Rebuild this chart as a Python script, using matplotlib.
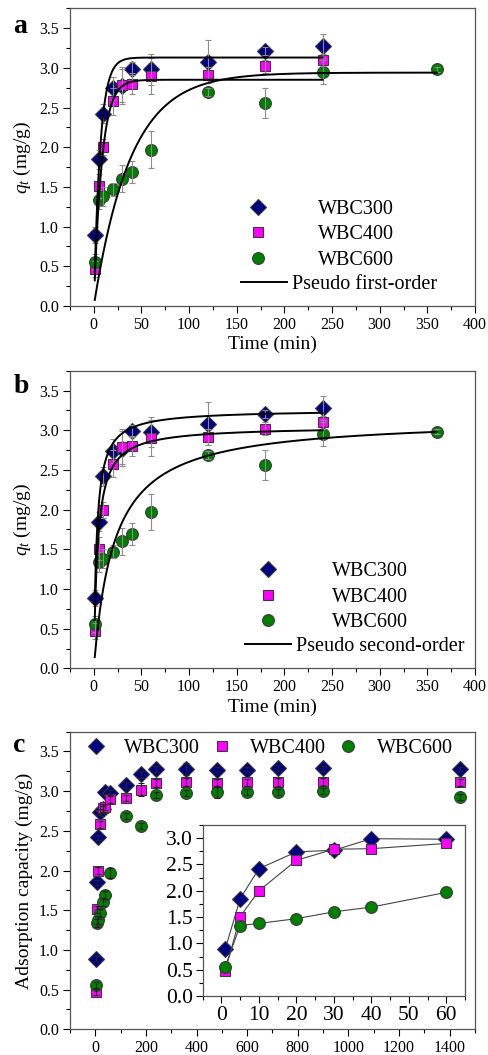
import numpy as np
import matplotlib.pyplot as plt
from matplotlib.ticker import MultipleLocator, FormatStrFormatter

plt.rcParams['font.family'] = ['Liberation Serif', 'DejaVu Serif']
plt.rcParams['mathtext.fontset'] = 'custom'
plt.rcParams['mathtext.it'] = 'Liberation Serif:italic'
plt.rcParams['mathtext.rm'] = 'Liberation Serif'

# kinetics data (panels a, b)
t_ab = [1, 5, 10, 20, 30, 40, 60, 120, 180, 240]
t_ab600 = [1, 5, 10, 20, 30, 40, 60, 120, 180, 240, 360]
q300_ab = [0.89, 1.85, 2.42, 2.74, 2.77, 2.99, 2.98, 3.08, 3.21, 3.28]
q400_ab = [0.47, 1.51, 2.00, 2.58, 2.79, 2.80, 2.90, 2.91, 3.02, 3.10]
q600_ab = [0.56, 1.34, 1.38, 1.47, 1.60, 1.69, 1.97, 2.69, 2.56, 2.95, 2.98]
e300_ab = [0.10, 0.12, 0.12, 0.15, 0.22, 0.08, 0.19, 0.27, 0.05, 0.15]
e400_ab = [0.10, 0.15, 0.10, 0.17, 0.22, 0.13, 0.23, 0.10, 0.08, 0.08]
e600_ab = [0.10, 0.12, 0.12, 0.08, 0.17, 0.14, 0.23, 0.05, 0.19, 0.15, 0.03]

# fitted model parameters (WBC300, WBC400, WBC600)
fit_end = [240, 240, 360]
pfo_qe = [3.13, 2.85, 2.94]
pfo_k = [0.15, 0.12, 0.026]
pso_qe = [3.26, 3.05, 3.156]
pso_k = [0.102, 0.082, 0.0149]

# full time range (panel c)
t_c = [1, 5, 10, 20, 30, 40, 60, 120, 180, 240, 360, 480, 600, 720, 900, 1440]
q300_c = [0.89, 1.85, 2.42, 2.74, 2.77, 2.99, 2.98, 3.08, 3.21, 3.28, 3.28, 3.27, 3.27, 3.29, 3.29, 3.28]
q400_c = [0.47, 1.51, 2.00, 2.58, 2.79, 2.80, 2.90, 2.91, 3.02, 3.10, 3.11, 3.10, 3.11, 3.11, 3.11, 3.11]
q600_c = [0.56, 1.34, 1.38, 1.47, 1.60, 1.69, 1.97, 2.69, 2.56, 2.95, 2.98, 2.99, 2.99, 2.99, 3.00, 2.93]
e300_c = [0.03, 0.03, 0.03, 0.04, 0.04, 0.03, 0.04, 0.04, 0.05, 0.04, 0.08, 0.03, 0.03, 0.04, 0.03, 0.03]
e400_c = [0.04, 0.04, 0.04, 0.04, 0.05, 0.04, 0.05, 0.04, 0.08, 0.05, 0.05, 0.05, 0.04, 0.06, 0.05, 0.04]
e600_c = [0.04, 0.05, 0.05, 0.05, 0.05, 0.05, 0.06, 0.04, 0.04, 0.04, 0.04, 0.07, 0.04, 0.04, 0.04, 0.04]
inset_n = 7  # points with t <= 60

names = ['WBC300', 'WBC400', 'WBC600']
colors = ['#000080', '#ff00ff', '#008000']
markers = ['D', 's', 'o']
msizes = [8, 7, 8.5]
edge = '#3a3a3a'


def style_axes(ax, xmajor, labelsize=11.5):
    ax.xaxis.set_major_locator(MultipleLocator(xmajor))
    ax.xaxis.set_minor_locator(MultipleLocator(xmajor / 2))
    ax.yaxis.set_major_locator(MultipleLocator(0.5))
    ax.yaxis.set_minor_locator(MultipleLocator(0.25))
    ax.yaxis.set_major_formatter(FormatStrFormatter('%.1f'))
    ax.tick_params(which='major', direction='out', length=5, width=0.8,
                   labelsize=labelsize, pad=3)
    ax.tick_params(which='minor', direction='out', length=3, width=0.8)
    for s in ax.spines.values():
        s.set_color('#555555')
        s.set_linewidth(0.9)


def plot_points(ax, t_list, q_list, e_list, ecolor):
    handles = []
    for t, q, e, c, m, ms, n in zip(t_list, q_list, e_list, colors, markers, msizes, names):
        h, = ax.plot(t, q, linestyle='none', marker=m, ms=ms, mfc=c, mec=edge,
                     mew=0.8, label=n, zorder=3)
        ax.errorbar(t, q, yerr=e, fmt='none', ecolor=ecolor, elinewidth=0.8,
                    capsize=2.5, capthick=0.8, zorder=4)
        handles.append(h)
    return handles


def add_legends(ax, handles, line, line_label, pos1, pos2, pad1):
    leg1 = ax.legend(handles=handles, loc='upper left', bbox_to_anchor=pos1,
                     frameon=False, fontsize=14.5, handlelength=1.0,
                     handletextpad=pad1, labelspacing=0.32, borderpad=0,
                     borderaxespad=0)
    ax.add_artist(leg1)
    ax.legend(handles=[line], labels=[line_label], loc='upper left',
              bbox_to_anchor=pos2, frameon=False, fontsize=14.5,
              handlelength=2.3, handletextpad=0.25, borderpad=0,
              borderaxespad=0)


fig = plt.figure(figsize=(4.88, 10.55), dpi=100)
ax_a = fig.add_axes([0.1434, 0.7100, 0.8299, 0.2821])
ax_b = fig.add_axes([0.1434, 0.3665, 0.8299, 0.2821])
ax_c = fig.add_axes([0.1434, 0.0244, 0.8299, 0.2821])
ax_in = fig.add_axes([0.4154, 0.0559, 0.5375, 0.1621])

t_lists = [t_ab, t_ab, t_ab600]
q_lists = [q300_ab, q400_ab, q600_ab]
e_lists = [e300_ab, e400_ab, e600_ab]

# panel a: pseudo first-order
h_a = plot_points(ax_a, t_lists, q_lists, e_lists, '#8c8c8c')
for qe, k, tend in zip(pfo_qe, pfo_k, fit_end):
    tt = np.linspace(1, tend, 600)
    line_a, = ax_a.plot(tt, qe * (1 - np.exp(-k * tt)), color='black', lw=1.4, zorder=5)
add_legends(ax_a, h_a, line_a, 'Pseudo first-order', (0.44, 0.357), (0.422, 0.103), 2.45)

# panel b: pseudo second-order
h_b = plot_points(ax_b, t_lists, q_lists, e_lists, '#8c8c8c')
for qe, k, tend in zip(pso_qe, pso_k, fit_end):
    tt = np.linspace(1, tend, 600)
    line_b, = ax_b.plot(tt, k * qe ** 2 * tt / (1 + k * qe * tt), color='black', lw=1.4, zorder=5)
add_legends(ax_b, h_b, line_b, 'Pseudo second-order', (0.464, 0.357), (0.432, 0.106), 2.7)

for ax in (ax_a, ax_b):
    ax.set_xlim(-25, 400)
    ax.set_ylim(0, 3.75)
    style_axes(ax, 50)
    ax.set_xlabel('Time (min)', fontsize=14, labelpad=2)
    ax.set_ylabel('$q_t$ (mg/g)', fontsize=14, labelpad=4)

# panel c: full range with inset
h_c = plot_points(ax_c, [t_c] * 3, [q300_c, q400_c, q600_c], [e300_c, e400_c, e600_c], '#222222')
ax_c.set_xlim(-100, 1500)
ax_c.set_ylim(0, 3.75)
style_axes(ax_c, 200)
ax_c.set_ylabel('Adsorption capacity (mg/g)', fontsize=14, labelpad=4)
ax_c.legend(handles=h_c, loc='upper left', bbox_to_anchor=(0.039, 0.977), ncol=3,
            frameon=False, fontsize=14.5, handlelength=1.0, handletextpad=0.9,
            columnspacing=0.6, borderpad=0, borderaxespad=0)

for q, c, m, ms in zip([q300_c, q400_c, q600_c], colors, markers, msizes):
    ax_in.plot(t_c[:inset_n], q[:inset_n], color='#444444', lw=0.8, marker=m, ms=ms,
               mfc=c, mec=edge, mew=0.8)
ax_in.set_xlim(-5, 65)
ax_in.set_ylim(0, 3.25)
style_axes(ax_in, 10, labelsize=15.5)
ax_in.tick_params(pad=2)

fig.text(0.027, 0.9687, 'a', fontsize=20, fontweight='bold')
fig.text(0.027, 0.6272, 'b', fontsize=20, fontweight='bold')
fig.text(0.027, 0.2875, 'c', fontsize=20, fontweight='bold')

fig.savefig('out.png', dpi=100)
